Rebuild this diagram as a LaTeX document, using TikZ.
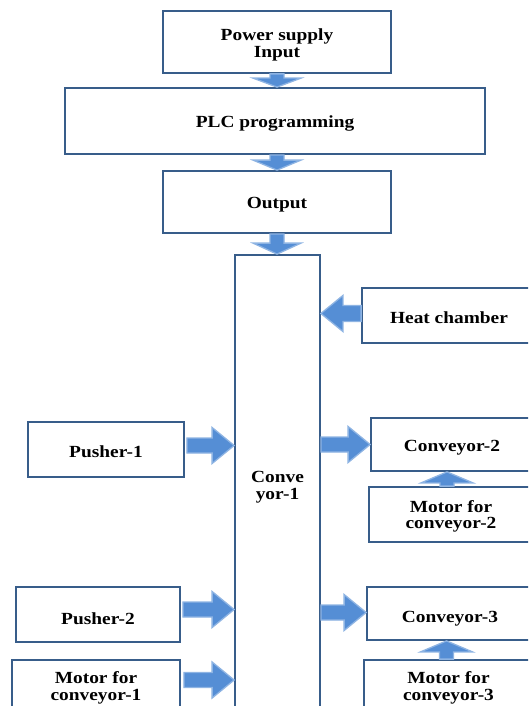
\documentclass[tikz,border=0pt]{standalone}
\usepackage{fontspec}
\setmainfont{Liberation Serif}[FakeStretch=1.14]
\usetikzlibrary{calc}
\definecolor{boxline}{HTML}{385D8A}
\definecolor{afill}{HTML}{558ED5}
\definecolor{aedge}{HTML}{8EB4E3}
\newcommand\topstrut{\rule{0pt}{16pt}}
\tikzset{
  box/.style={draw=boxline, line width=1.8pt, fill=white, align=center, inner sep=0pt,
    font=\bfseries\fontsize{17}{16.5}\selectfont, execute at begin node=\topstrut},
  blockarrow/.style={draw=aedge, fill=afill, line width=1.3pt, line join=miter}
}
\newcommand\barrow[5]{%
  \coordinate (bh) at ($(#2)!#5!(#1)$);
  \filldraw[blockarrow] ($(#1)!#3!90:(#2)$) -- ($(bh)!#3!90:(#2)$) -- ($(bh)!#4!90:(#2)$) -- (#2)
    -- ($(bh)!#4!-90:(#2)$) -- ($(bh)!#3!-90:(#2)$) -- ($(#1)!#3!-90:(#2)$) -- cycle;
}
\begin{document}
\begin{tikzpicture}[x=1pt,y=-1pt]
\useasboundingbox (0,0) rectangle (528,706);
\clip (0,0) rectangle (528,706);
\fill[white] (0,0) rectangle (528,706);

\node[box, minimum width=228pt, minimum height=62pt] (ps) at (277,42) {\rule{0pt}{18pt}Power supply\\\rule{0pt}{12.5pt}Input};
\node[box, minimum width=420pt, minimum height=66pt] (plc) at (275,121) {PLC programming};
\node[box, minimum width=228pt, minimum height=62pt] (out) at (277,202) {Output};
\node[box, minimum width=85pt, minimum height=458pt] (cv1) at (277.5,484) {\rule{0pt}{17.5pt}Conve\\yor-1};
\node[box, minimum width=174pt, minimum height=55pt] (heat) at (449,315.5) {Heat chamber};
\node[box, minimum width=156pt, minimum height=55pt] (p1) at (106,449.5) {Pusher-1};
\node[box, minimum width=162pt, minimum height=53pt] (c2) at (452,444.5) {\rule{0pt}{17pt}Conveyor-2};
\node[box, minimum width=164pt, minimum height=55pt] (m2) at (451,514.5) {\rule{0pt}{15.5pt}Motor for\\conveyor-2};
\node[box, minimum width=164pt, minimum height=55pt] (p2) at (98,614.5) {\rule{0pt}{21pt}Pusher-2};
\node[box, minimum width=166pt, minimum height=53pt] (c3) at (450,613.5) {\rule{0pt}{22.5pt}Conveyor-3};
\node[box, minimum width=168pt, minimum height=52pt] (m1) at (96,686) {\rule{0pt}{15.5pt}Motor for\\conveyor-1};
\node[box, minimum width=169pt, minimum height=52pt] (m3) at (448.5,686) {\rule{0pt}{15.5pt}Motor for\\conveyor-3};

% vertical arrows
\coordinate (a1s) at (ps.south);
\coordinate (a1e) at (ps.south |- plc.north);
\barrow{a1s}{a1e}{7pt}{24pt}{9pt}
\coordinate (a2s) at (out.north |- plc.south);
\coordinate (a2e) at (out.north);
\barrow{a2s}{a2e}{7pt}{24pt}{10pt}
\coordinate (a3s) at (out.south);
\coordinate (a3e) at (out.south |- cv1.north);
\barrow{a3s}{a3e}{7pt}{24pt}{11pt}
\coordinate (a4s) at ([xshift=-4pt]m2.north);
\coordinate (a4e) at (a4s |- c2.south);
\barrow{a4s}{a4e}{7pt}{26pt}{11pt}
\coordinate (a5s) at ([xshift=-2pt]m3.north);
\coordinate (a5e) at (a5s |- c3.south);
\barrow{a5s}{a5e}{7pt}{26pt}{11pt}

% horizontal arrows
\coordinate (h1s) at ([yshift=2pt]heat.west);
\coordinate (h1e) at (h1s -| cv1.east);
\barrow{h1s}{h1e}{8pt}{18pt}{22pt}
\coordinate (h2s) at ([xshift=2pt,yshift=4pt]p1.east);
\coordinate (h2e) at (h2s -| cv1.west);
\barrow{h2s}{h2e}{7.5pt}{18pt}{22pt}
\coordinate (h3e) at (c2.west);
\coordinate (h3s) at (h3e -| cv1.east);
\barrow{h3s}{h3e}{7.5pt}{18pt}{22pt}
\coordinate (h4s) at ([xshift=2pt,yshift=5pt]p2.east);
\coordinate (h4e) at (h4s -| cv1.west);
\barrow{h4s}{h4e}{7.5pt}{18pt}{22pt}
\coordinate (h5e) at ([yshift=1pt]c3.west);
\coordinate (h5s) at (h5e -| cv1.east);
\barrow{h5s}{h5e}{7.5pt}{18pt}{22pt}
\coordinate (h6s) at ([xshift=3pt,yshift=6pt]m1.east);
\coordinate (h6e) at (h6s -| cv1.west);
\barrow{h6s}{h6e}{7.5pt}{18pt}{22pt}
\end{tikzpicture}
\end{document}
